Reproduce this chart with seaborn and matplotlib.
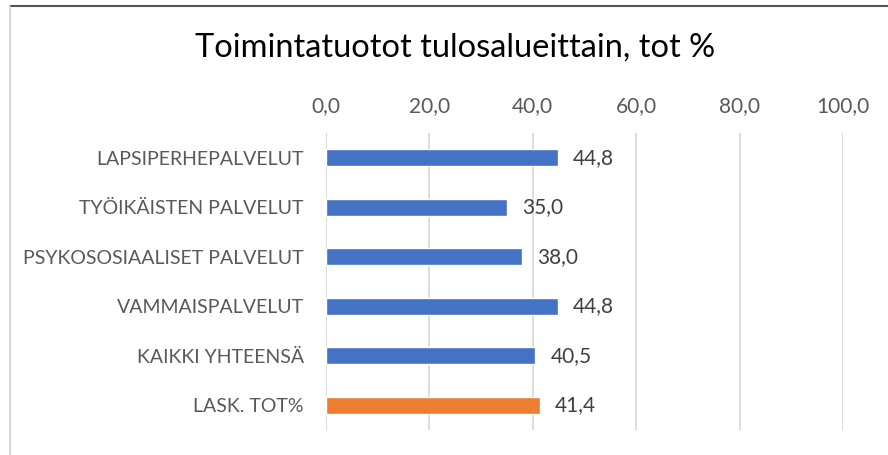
import matplotlib
matplotlib.use("Agg")
import matplotlib.pyplot as plt
import seaborn as sns
import pandas as pd
from matplotlib.lines import Line2D

categories = ["LAPSIPERHEPALVELUT", "TYÖIKÄISTEN PALVELUT", "PSYKOSOSIAALISET PALVELUT",
              "VAMMAISPALVELUT", "KAIKKI YHTEENSÄ", "LASK. TOT%"]
values = [44.8, 35.0, 38.0, 44.8, 40.5, 41.4]
groups = ["a", "a", "a", "a", "a", "b"]
tick_values = [0, 20, 40, 60, 80, 100]
tick_labels = ["0,0", "20,0", "40,0", "60,0", "80,0", "100,0"]
title = "Toimintatuotot tulosalueittain, tot %"

sns.set_theme(style="white")
plt.rcParams['font.family'] = ['Lato', 'DejaVu Sans']

df = pd.DataFrame({"cat": categories, "val": values, "grp": groups})

fig = plt.figure(figsize=(8.88, 4.55), dpi=100)
ax = fig.add_axes([326/888, 1-430/455, (843-326)/888, (430-133)/455])

sns.barplot(data=df, y="cat", x="val", hue="grp", dodge=False,
            palette={"a": "#4472C4", "b": "#ED7D31"}, width=0.34,
            legend=False, ax=ax, saturation=1)

ax.set_xlim(0, 100)
ax.set_xticks(tick_values)
ax.set_xticklabels(tick_labels)
ax.xaxis.tick_top()
ax.tick_params(axis="x", length=0, pad=12, labelsize=15, labelcolor="#595959")
ax.tick_params(axis="y", length=0, pad=16, labelsize=14, labelcolor="#595959")
ax.set_xlabel("")
ax.set_ylabel("")
ax.grid(axis="x", color="#D9D9D9", linewidth=1.3)
ax.set_axisbelow(True)
for s in ax.spines.values():
    s.set_visible(False)

for i, v in enumerate(values):
    ax.text(v + 2.9, i, f"{v:.1f}".replace(".", ","), va="center", ha="left",
            fontsize=15, color="#404040")

fig.text(455/888, 1-48/455, title, ha="center", va="center", fontsize=23.5, color="#000000")

fig.add_artist(Line2D([10/888, 1], [1-6/455, 1-6/455], color="#555555", linewidth=1.5,
                      transform=fig.transFigure))
fig.add_artist(Line2D([10/888, 10/888], [0, 1-6/455], color="#D0D0D0", linewidth=1.2,
                      transform=fig.transFigure))

fig.savefig("out.png", dpi=100)
